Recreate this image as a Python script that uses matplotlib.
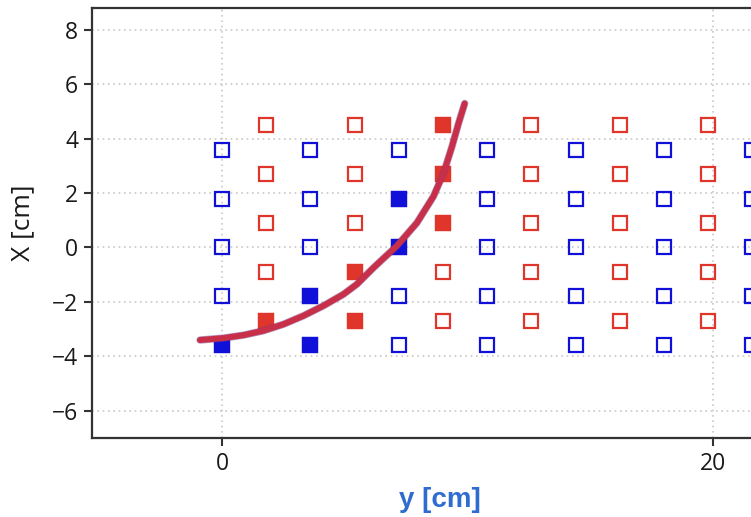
import matplotlib
matplotlib.use("Agg")
import matplotlib.pyplot as plt
import numpy as np

plt.rcParams['font.family'] = ['Open Sans', 'DejaVu Sans']

# Grid of sensor positions
blue_cols = [0.0, 3.6, 7.2, 10.8, 14.4, 18.0, 21.6]
blue_rows = [3.6, 1.8, 0.0, -1.8, -3.6]
red_cols = [1.8, 5.4, 9.0, 12.6, 16.2, 19.8]
red_rows = [4.5, 2.7, 0.9, -0.9, -2.7]

# Activated (filled) sensors
blue_on_y = [0.0, 3.6, 3.6, 7.2, 7.2]
blue_on_x = [-3.6, -1.8, -3.6, 1.8, 0.0]
red_on_y = [1.8, 5.4, 5.4, 9.0, 9.0, 9.0]
red_on_x = [-2.7, -0.9, -2.7, 4.5, 2.7, 0.9]

# Trajectory
traj_y = [-0.9, 0.05, 0.87, 1.68, 2.5, 3.31, 4.13, 4.94, 5.49, 6.17,
          7.11, 7.93, 8.61, 9.02, 9.36, 9.63, 9.88]
traj_x = [-3.40, -3.33, -3.22, -3.06, -2.82, -2.51, -2.14, -1.72, -1.35, -0.74,
          0.05, 0.90, 1.88, 2.73, 3.70, 4.56, 5.29]

W, H = 751, 517
fig = plt.figure(figsize=(W / 100, H / 100), dpi=100)
left_px, bottom_px, top_px = 92, 438, 8
xmin, xmax = -5.3, 23.0
ppu = 24.55
right_px = left_px + (xmax - xmin) * ppu
ax = fig.add_axes([left_px / W, (H - bottom_px) / H,
                   (right_px - left_px) / W, (bottom_px - top_px) / H])

blue = '#1010d8'
red = '#e0352a'
ms = 9.8

by, bx = np.meshgrid(blue_cols, blue_rows)
ax.plot(by.ravel(), bx.ravel(), 's', ms=ms, mfc='none', mec=blue, mew=1.6, ls='none', zorder=3)
ry, rx = np.meshgrid(red_cols, red_rows)
ax.plot(ry.ravel(), rx.ravel(), 's', ms=ms, mfc='none', mec=red, mew=1.6, ls='none', zorder=3)

ax.plot(blue_on_y, blue_on_x, 's', ms=ms, mfc=blue, mec=blue, mew=1.6, ls='none', zorder=4)
ax.plot(red_on_y, red_on_x, 's', ms=ms, mfc=red, mec=red, mew=1.6, ls='none', zorder=4)

ax.plot(traj_y, traj_x, '-', color='#6a3a8a', lw=5.3, solid_capstyle='round',
        solid_joinstyle='round', alpha=0.5, zorder=5)
ax.plot(traj_y, traj_x, '-', color='#c8304a', lw=4.3, solid_capstyle='round',
        solid_joinstyle='round', zorder=6)

ax.set_xlim(xmin, xmax)
ax.set_ylim(-7.0, 8.8)
ax.set_xticks([0, 20])
ax.set_yticks([-6, -4, -2, 0, 2, 4, 6, 8])
ax.set_yticklabels(['\u22126', '\u22124', '\u22122', '0', '2', '4', '6', '8'])
ax.grid(True, ls=(0, (1, 2.2)), color='#c8c8c8', lw=1.2)
ax.set_axisbelow(True)

for s in ax.spines.values():
    s.set_color('#333333')
    s.set_linewidth(1.6)
ax.tick_params(axis='both', which='major', length=6, width=1.5, color='#333333',
               labelsize=16.5, labelcolor='#1a1a1a', pad=4)

ax.set_ylabel('X [cm]', fontsize=19, color='#1a1a1a', labelpad=12)
ax.set_xlabel('y [cm]', fontsize=20, fontweight='bold', color='#2f6ccf',
              family=['Liberation Sans', 'DejaVu Sans'], labelpad=8)

fig.savefig('out.png', dpi=100)
